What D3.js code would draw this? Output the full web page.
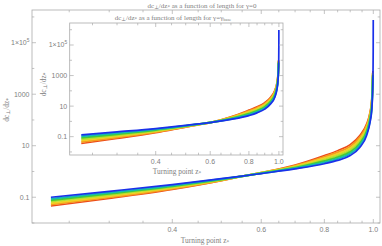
<!DOCTYPE html>
<html><head><meta charset="utf-8">
<script src="https://cdn.jsdelivr.net/npm/d3@7"></script>
<style>html,body{margin:0;padding:0;background:#fff;}svg{display:block;}</style>
</head><body>
<svg id="c" width="382" height="246"></svg>
<script>
// ---------- data ----------
const zGrid = [0.23,0.3,0.4,0.5,0.55,0.6,0.7,0.8,0.85,0.9,0.94,0.97,0.985,0.993,0.998,0.9995,0.9998];
const seriesColors = ["#ec4a1a","#f59a1e","#f2d024","#b4e030","#46cc36","#14b8b4","#1a30ea"];

// outer panel (gamma = 0), bottom-left red ... blue
const outerRed    = [0.046,0.089,0.20,0.44,0.65,0.91,1.78,4.17,6.46,11.0,25.1,70.8,200,631,7900];
const outerOrange = [0.052,0.099,0.215,0.45,0.65,0.90,1.68,3.69,5.58,9.3,21,60,171,541,7000];
const outerYellow = [0.059,0.110,0.231,0.465,0.65,0.885,1.58,3.26,4.82,7.94,17.5,50,147,464,6600];
const outerLime   = [0.068,0.123,0.248,0.479,0.653,0.871,1.50,2.88,4.17,6.76,14.6,42,126,398,6300];
const outerGreen  = [0.077,0.137,0.267,0.493,0.656,0.857,1.41,2.55,3.60,5.75,12.2,35.5,108,341,5600];
const outerCyan   = [0.088,0.152,0.287,0.509,0.658,0.845,1.33,2.25,3.11,4.90,10.2,29.9,92.7,293,5000];
const outerBlue   = [0.10,0.17,0.31,0.525,0.66,0.83,1.26,2.0,2.69,4.17,8.5,25.1,79.4,251,2500,50000,760000];

// inner panel (gamma = gamma_base)
const innerRed    = [0.036,0.075,0.18,0.42,0.60,0.83,2.0,5.5,9.0,17,38,110,320,1100,10000];
const innerOrange = [0.0446,0.0886,0.200,0.439,0.612,0.832,1.87,4.79,7.72,14.4,32.2,91.8,272,944,9500];
const innerYellow = [0.0552,0.105,0.222,0.459,0.625,0.834,1.75,4.17,6.62,12.2,27.2,77.1,231,813,8900];
const innerLime   = [0.0684,0.124,0.247,0.480,0.639,0.835,1.64,3.63,5.69,10.4,23.1,64.6,196,700,8000];
const innerGreen  = [0.0847,0.146,0.274,0.502,0.653,0.836,1.54,3.16,4.89,8.77,19.5,54.1,167,603,7100];
const innerCyan   = [0.105,0.173,0.305,0.525,0.667,0.838,1.44,2.75,4.19,7.45,16.5,45.4,142,519,6300];
const innerBlue   = [0.13,0.205,0.34,0.55,0.68,0.84,1.35,2.4,3.6,6.3,14,38,120,450,4000,80000,950000];

const xMajorTicks = [0.4,0.6,0.8,1.0];
const xMajorLabels = ["0.4","0.6","0.8","1.0"];
const xMinorTicks = [0.25,0.3,0.35,0.45,0.5,0.55,0.65,0.7,0.75,0.85,0.9,0.95];
const yMajorTicks = [0.1,10,1000,1e5];
const yMajorLabels = ["0.1","10","1000","1e5"];
const yMinorTicks = [0.01,1,100,1e4,1e6];

const outerTitle = "as a function of length for γ=0";
const innerTitle = "as a function of length for γ=γ";
const xLabelText = "Turning point z";

// ---------- drawing ----------
const svg = d3.select("#c");
const frameColor = "#aaaaaa", textColor = "#808080";
const serif = "'Liberation Serif','DejaVu Serif',serif";
const sans = "'Liberation Sans','DejaVu Sans',sans-serif";

function addDcDz(sel){
  sel.append("tspan").text("dc");
  sel.append("tspan").attr("baseline-shift","-25%").attr("font-size","0.72em").text("⊥");
  sel.append("tspan").text("/dz");
  sel.append("tspan").attr("baseline-shift","-25%").attr("font-size","0.72em").text("*");
}

function panel(p){
  const g = svg.append("g");
  const x = d3.scaleLog().domain([0.211,1.031]).range([p.left,p.right]);
  const y = d3.scaleLog().domain(p.ydom).range([p.bottom,p.top]);
  g.append("rect").attr("x",p.left).attr("y",p.top).attr("width",p.right-p.left).attr("height",p.bottom-p.top)
    .attr("fill","#fff").attr("stroke","none");
  const clipId = "clip"+p.id;
  svg.append("clipPath").attr("id",clipId).append("rect")
    .attr("x",p.left).attr("y",p.top).attr("width",p.right-p.left).attr("height",p.bottom-p.top);
  const line = d3.line().x((d,i)=>x(zGrid[i])).y(d=>y(d)).curve(d3.curveMonotoneX);
  const cg = g.append("g").attr("clip-path","url(#"+clipId+")");
  p.series.forEach((s,k)=>{
    cg.append("path").attr("d",line(s)).attr("fill","none")
      .attr("stroke",seriesColors[k]).attr("stroke-width",k===p.series.length-1?1.7:(k===0?1.6:2.0))
      .attr("stroke-linejoin","round");
  });
  g.append("rect").attr("x",p.left).attr("y",p.top).attr("width",p.right-p.left).attr("height",p.bottom-p.top)
    .attr("fill","none").attr("stroke",frameColor).attr("stroke-width",0.8);
  const tk = g.append("g").attr("stroke",frameColor).attr("stroke-width",0.7);
  const maj = 4, mnr = 2.3;
  xMajorTicks.forEach(v=>{
    tk.append("line").attr("x1",x(v)).attr("x2",x(v)).attr("y1",p.bottom).attr("y2",p.bottom-maj);
    tk.append("line").attr("x1",x(v)).attr("x2",x(v)).attr("y1",p.top).attr("y2",p.top+maj);
  });
  xMinorTicks.forEach(v=>{
    tk.append("line").attr("x1",x(v)).attr("x2",x(v)).attr("y1",p.bottom).attr("y2",p.bottom-mnr);
    tk.append("line").attr("x1",x(v)).attr("x2",x(v)).attr("y1",p.top).attr("y2",p.top+mnr);
  });
  yMajorTicks.forEach(v=>{
    tk.append("line").attr("y1",y(v)).attr("y2",y(v)).attr("x1",p.left).attr("x2",p.left+maj);
    tk.append("line").attr("y1",y(v)).attr("y2",y(v)).attr("x1",p.right).attr("x2",p.right-maj);
  });
  yMinorTicks.forEach(v=>{
    if(y(v)>p.bottom||y(v)<p.top) return;
    tk.append("line").attr("y1",y(v)).attr("y2",y(v)).attr("x1",p.left).attr("x2",p.left+mnr);
    tk.append("line").attr("y1",y(v)).attr("y2",y(v)).attr("x1",p.right).attr("x2",p.right-mnr);
  });
  xMajorTicks.forEach((v,i)=>{
    g.append("text").attr("x",x(v)).attr("y",p.bottom+9).attr("text-anchor","middle")
      .attr("font-family",sans).attr("font-size",7).attr("fill",textColor).text(xMajorLabels[i]);
  });
  yMajorTicks.forEach((v,i)=>{
    const t = g.append("text").attr("x",p.left-2.5).attr("y",y(v)+2.4).attr("text-anchor","end")
      .attr("font-family",sans).attr("font-size",7).attr("fill",textColor);
    if(yMajorLabels[i]==="1e5"){
      t.append("tspan").text("1×10");
      t.append("tspan").attr("baseline-shift","55%").attr("font-size","0.7em").text("5");
    } else t.text(yMajorLabels[i]);
  });
  const xl = g.append("text").attr("x",p.xlabX).attr("y",p.xlabY).attr("text-anchor","middle")
    .attr("font-family",serif).attr("font-size",7.4).attr("fill",textColor);
  xl.append("tspan").text(xLabelText);
  xl.append("tspan").attr("baseline-shift","-25%").attr("font-size","0.72em").text("*");
  const yl = g.append("text").attr("transform",`translate(${p.ylabX},${p.ylabY}) rotate(-90)`)
    .attr("text-anchor","middle").attr("font-family",serif).attr("font-size",7.4).attr("fill",textColor);
  addDcDz(yl);
  const tt = g.append("text").attr("x",p.titleX).attr("y",p.titleY).attr("text-anchor","middle")
    .attr("font-family",serif).attr("font-size",7).attr("fill",textColor);
  addDcDz(tt);
  tt.append("tspan").text(" "+p.title);
  if(p.sub) tt.append("tspan").attr("baseline-shift","-25%").attr("font-size","0.65em").text(p.sub);
}

panel({id:"o",left:32,right:380,top:10,bottom:223,ydom:[0.01,1.86e6],
  series:[outerRed,outerOrange,outerYellow,outerLime,outerGreen,outerCyan,outerBlue],
  xlabX:205,xlabY:242.5,ylabX:8.5,ylabY:110,titleX:202,titleY:7.5,title:outerTitle});
panel({id:"i",left:69.7,right:283,top:23,bottom:155,ydom:[Math.pow(10,-2.2),Math.pow(10,6.44)],
  series:[innerRed,innerOrange,innerYellow,innerLime,innerGreen,innerCyan,innerBlue],
  xlabX:177,xlabY:174,ylabX:45.5,ylabY:84.5,titleX:173,titleY:19.5,title:innerTitle,sub:"base"});
</script>
</body></html>
